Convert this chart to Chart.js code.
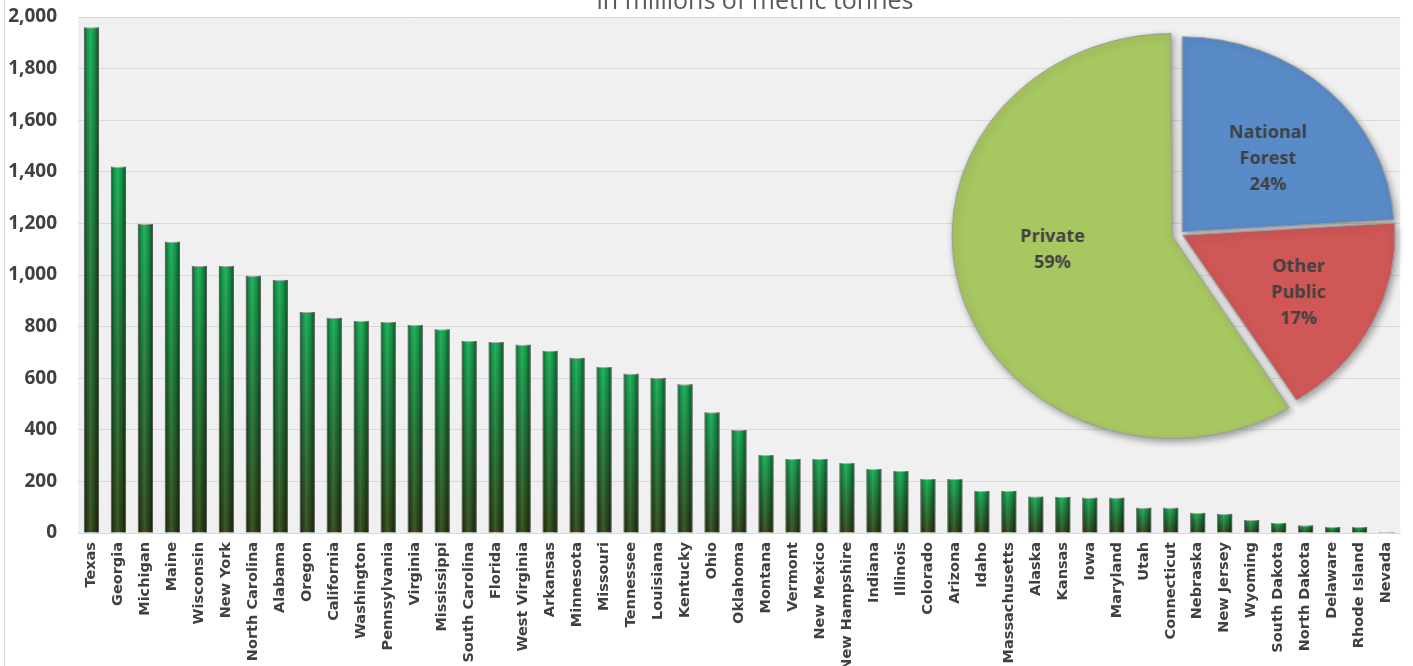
<!DOCTYPE html>
<html>
<head>
<meta charset="utf-8">
<script src="https://cdn.jsdelivr.net/npm/chart.js@4.4.0/dist/chart.umd.min.js"></script>
<style>
  html, body { margin: 0; padding: 0; background: #ffffff; overflow: hidden; }
  #wrap { position: relative; width: 1413px; height: 666px; }
  #bars { position: absolute; left: 0; top: 0; }
  #pie { position: absolute; left: 950px; top: 4px; transform: scaleX(1.087); transform-origin: 230px 230px; }
</style>
</head>
<body>
<div id="wrap">
  <canvas id="bars" width="1413" height="666"></canvas>
  <canvas id="pie" width="460" height="460"></canvas>
</div>
<script>
// biomass per state, in millions of metric tonnes
const states = [
  "Texas", "Georgia", "Michigan", "Maine", "Wisconsin", "New York", "North Carolina",
  "Alabama", "Oregon", "California", "Washington", "Pennsylvania", "Virginia",
  "Mississippi", "South Carolina", "Florida", "West Virginia", "Arkansas", "Minnesota",
  "Missouri", "Tennessee", "Louisiana", "Kentucky", "Ohio", "Oklahoma", "Montana",
  "Vermont", "New Mexico", "New Hampshire", "Indiana", "Illinois", "Colorado", "Arizona",
  "Idaho", "Massachusetts", "Alaska", "Kansas", "Iowa", "Maryland", "Utah", "Connecticut",
  "Nebraska", "New Jersey", "Wyoming", "South Dakota", "North Dakota", "Delaware",
  "Rhode Island", "Nevada"
];
const biomass = [
  1960, 1420, 1198, 1129, 1035, 1035, 997,
  981, 857, 834, 822, 818, 806,
  790, 744, 740, 730, 706, 679,
  643, 617, 601, 577, 468, 399, 302,
  287, 287, 271, 248, 240, 209, 209,
  163, 163, 141, 140, 137, 137, 98, 98,
  78, 74, 50, 39, 30, 23,
  23, 4
];
const yMin = 0;
const yMax = 2000;
const yStep = 200;

const ownerLabels = [["National", "Forest"], ["Other", "Public"], ["Private"]];
const ownerShare = [24, 17, 59];
const ownerColors = ["#5a8bc9", "#cf5856", "#a7c761"];

const titleText = "in millions of metric tonnes";
const ink = "#404040";

// where each pie label sits: fraction of radius, and turn from mid-angle (degrees)
const labelRadius = [0.55, 0.62, 0.53];
const labelTurn = [4, 1.3, 8.4];

// white page, left rule, grey plot area and title
const backdrop = {
  id: "backdrop",
  beforeDraw(chart) {
    const { ctx, chartArea } = chart;
    ctx.save();
    ctx.fillStyle = "#ffffff";
    ctx.fillRect(0, 0, chart.width, chart.height);
    ctx.fillStyle = "#f0f0f0";
    ctx.fillRect(chartArea.left, chartArea.top, chartArea.right - chartArea.left, chartArea.bottom - chartArea.top);
    ctx.strokeStyle = "#d9d9d9";
    ctx.lineWidth = 1;
    ctx.beginPath();
    ctx.moveTo(4.5, 0);
    ctx.lineTo(4.5, chart.height);
    ctx.stroke();
    ctx.fillStyle = "#595959";
    ctx.font = "25px 'Open Sans'";
    ctx.textAlign = "center";
    ctx.textBaseline = "alphabetic";
    ctx.fillText(titleText, 755, 9);
    ctx.restore();
  }
};

// cylinder shading across each bar
const shading = {
  id: "shading",
  afterDatasetsDraw(chart) {
    const { ctx } = chart;
    ctx.save();
    chart.getDatasetMeta(0).data.forEach(bar => {
      const { x, y, base, width } = bar.getProps(["x", "y", "base", "width"], true);
      const l = x - width / 2;
      const g = ctx.createLinearGradient(l, 0, l + width, 0);
      g.addColorStop(0, "rgba(0,0,0,0.5)");
      g.addColorStop(0.22, "rgba(0,0,0,0.06)");
      g.addColorStop(0.42, "rgba(255,255,255,0.10)");
      g.addColorStop(0.7, "rgba(0,0,0,0.1)");
      g.addColorStop(1, "rgba(0,0,0,0.55)");
      ctx.fillStyle = g;
      ctx.fillRect(l, y, width, base - y);
    });
    ctx.restore();
  }
};

function barFill(context) {
  const chart = context.chart;
  const { chartArea, scales } = chart;
  if (!chartArea) return "#1d7436";
  const top = scales.y.getPixelForValue(biomass[context.dataIndex]);
  const bottom = scales.y.getPixelForValue(0);
  const g = chart.ctx.createLinearGradient(0, top, 0, Math.max(bottom, top + 1));
  g.addColorStop(0, "#12a84f");
  g.addColorStop(0.45, "#1c7636");
  g.addColorStop(1, "#2c4214");
  return g;
}

new Chart(document.getElementById("bars"), {
  type: "bar",
  data: {
    labels: states,
    datasets: [{
      data: biomass,
      backgroundColor: barFill,
      borderColor: "rgba(110,110,110,0.5)",
      borderWidth: 1,
      categoryPercentage: 1,
      barPercentage: 0.56
    }]
  },
  options: {
    responsive: false,
    animation: false,
    layout: { padding: { top: 17, right: 1, left: 0, bottom: 0 } },
    plugins: { legend: { display: false }, tooltip: { enabled: false } },
    scales: {
      x: {
        grid: { display: false, drawTicks: false },
        border: { display: true, color: "#d9d9d9" },
        ticks: {
          autoSkip: false,
          maxRotation: 90,
          minRotation: 90,
          padding: 9,
          color: ink,
          font: { family: "'DejaVu Sans'", size: 14.5, weight: "bold" }
        },
        afterFit(scale) { scale.height = 133; }
      },
      y: {
        min: yMin,
        max: yMax,
        grid: { color: "#d9d9d9", drawTicks: false },
        border: { display: false },
        ticks: {
          stepSize: yStep,
          padding: 21,
          color: ink,
          font: { family: "'Open Sans'", size: 19, weight: "bold" }
        },
        afterFit(scale) {
          scale.width = 78;
          scale.paddingTop = 0;
          scale.paddingBottom = 0;
        }
      }
    }
  },
  plugins: [backdrop, shading]
});

// inset pie: shadow and labels
const pieShadow = {
  id: "pieShadow",
  beforeDatasetsDraw(chart) {
    const ctx = chart.ctx;
    ctx.save();
    ctx.shadowColor = "rgba(0,0,0,0.35)";
    ctx.shadowBlur = 7;
    ctx.shadowOffsetX = 2;
    ctx.shadowOffsetY = 3;
  },
  afterDatasetsDraw(chart) {
    chart.ctx.restore();
  }
};

// same displacement rule the arc element uses when it draws an offset slice
function arcShift(arc) {
  const circ = arc.endAngle - arc.startAngle;
  const base = (arc.options.offset || 0) / 4;
  return base * (2 - Math.sin(Math.min(Math.PI, circ)));
}

const pieLabels = {
  id: "pieLabels",
  afterDraw(chart) {
    const ctx = chart.ctx;
    ctx.save();
    ctx.fillStyle = ink;
    ctx.font = "bold 18px 'Open Sans'";
    ctx.textAlign = "center";
    ctx.textBaseline = "middle";
    chart.getDatasetMeta(0).data.forEach((arc, i) => {
      const p = arc.getProps(["x", "y", "startAngle", "endAngle", "outerRadius"], true);
      const mid = (p.startAngle + p.endAngle) / 2 + labelTurn[i] * Math.PI / 180;
      const d = p.outerRadius * labelRadius[i] + arcShift(arc);
      const cx = p.x + Math.cos(mid) * d;
      const cy = p.y + Math.sin(mid) * d;
      const lines = ownerLabels[i].concat([ownerShare[i] + "%"]);
      ctx.save();
      ctx.translate(cx, cy);
      ctx.scale(1 / 1.087, 1);
      lines.forEach((t, k) => {
        ctx.fillText(t, 0, (k - (lines.length - 1) / 2) * 26);
      });
      ctx.restore();
    });
    ctx.restore();
  }
};

new Chart(document.getElementById("pie"), {
  type: "pie",
  data: {
    labels: ownerLabels.map(l => l.join(" ")),
    datasets: [{
      data: ownerShare,
      backgroundColor: ownerColors,
      borderColor: "#9a9a9a",
      borderWidth: 1,
      offset: [12, 11, 30],
      radius: 195
    }]
  },
  options: {
    responsive: false,
    animation: false,
    layout: { padding: 0 },
    plugins: { legend: { display: false }, tooltip: { enabled: false } }
  },
  plugins: [pieShadow, pieLabels]
});
</script>
</body>
</html>
